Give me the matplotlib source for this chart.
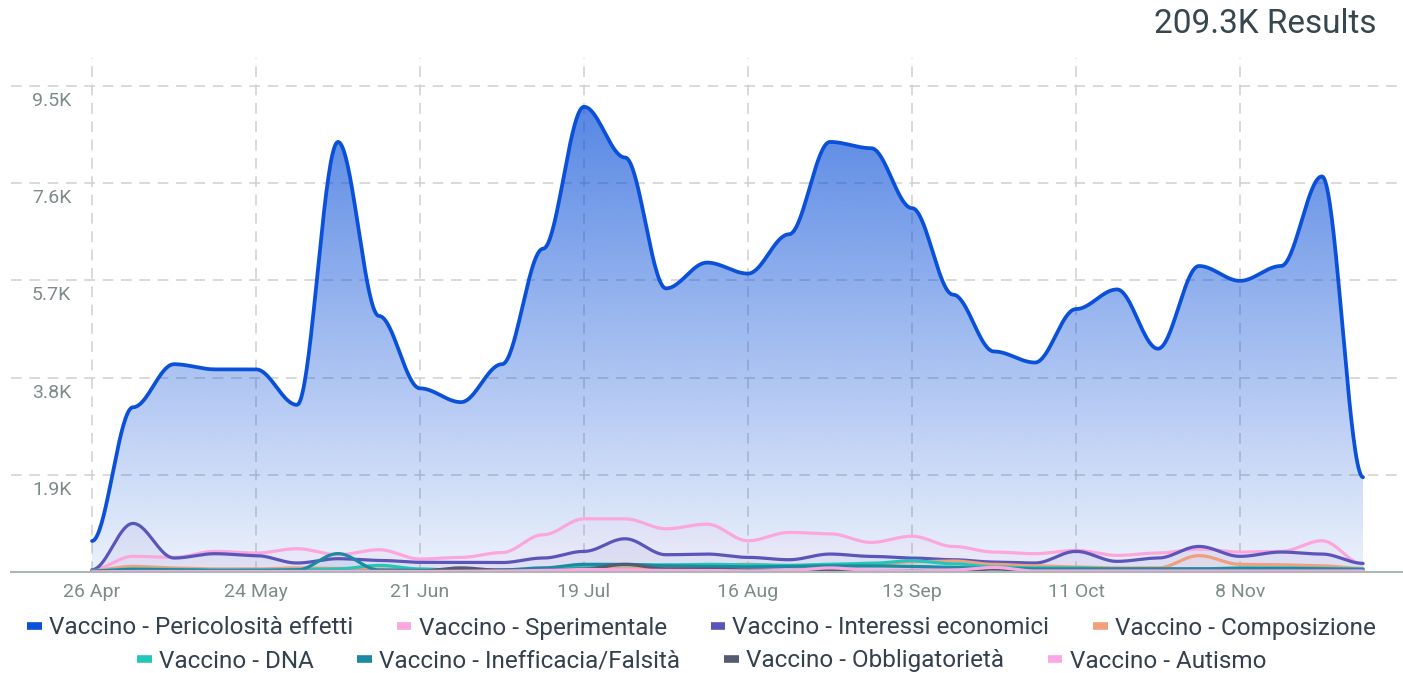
import numpy as np
import matplotlib
matplotlib.use("Agg")
import matplotlib.pyplot as plt
from matplotlib.lines import Line2D
from matplotlib import transforms

plt.rcParams['font.family'] = ['Roboto', 'DejaVu Sans']

# ---------------- data ----------------
weeks = list(range(32))  # weekly points from 26 Apr
tick_weeks = [0, 4, 8, 12, 16, 20, 24, 28]
tick_labels = ['26 Apr', '24 May', '21 Jun', '19 Jul', '16 Aug', '13 Sep', '11 Oct', '8 Nov']
y_ticks = [1900, 3800, 5700, 7600, 9500]
y_tick_labels = ['1.9K', '3.8K', '5.7K', '7.6K', '9.5K']

series_names = [
    'Vaccino - Pericolosità effetti',
    'Vaccino - Sperimentale',
    'Vaccino - Interessi economici',
    'Vaccino - Composizione',
    'Vaccino - DNA',
    'Vaccino - Inefficacia/Falsità',
    'Vaccino - Obbligatorietà',
    'Vaccino - Autismo',
]
series_colors = ['#0a50d8', '#fba6dd', '#5a55b9', '#f0a07c',
                 '#22c7b8', '#1b8aa2', '#525c6e', '#f9a8e3']

pericolosita = [606, 3221, 4063, 3962, 3962, 3268, 8409, 5006, 3591, 3321,
                4063, 6320, 9096, 8105, 5545, 6050, 5835, 6603, 8409, 8287,
                7115, 5424, 4312, 4096, 5141, 5525, 4366, 5983, 5693, 5983,
                7735, 1853]
sperimentale = [45, 306, 286, 403, 371, 455, 338, 436, 254, 286,
                380, 728, 1040, 1040, 845, 936, 611, 774, 748, 579,
                700, 500, 390, 358, 423, 325, 371, 449, 390, 403,
                611, 156]
interessi = [45, 950, 273, 358, 320, 176, 260, 228, 189, 189,
             185, 273, 403, 650, 338, 351, 286, 240, 351, 306,
             273, 240, 195, 176, 403, 208, 273, 500, 306, 390,
             351, 169]
composizione = [30, 110, 80, 60, 60, 80, 70, 60, 40, 40,
                40, 50, 60, 70, 80, 130, 150, 110, 100, 130,
                200, 215, 150, 120, 100, 80, 80, 320, 150, 140,
                120, 70]
dna = [20, 60, 50, 40, 40, 50, 60, 130, 60, 30,
       30, 60, 120, 140, 140, 150, 140, 130, 150, 170,
       220, 160, 100, 80, 80, 60, 60, 60, 80, 80,
       70, 60]
inefficacia = [20, 50, 45, 30, 30, 40, 360, 40, 30, 30,
               40, 80, 150, 150, 120, 110, 100, 110, 120, 120,
               110, 90, 70, 60, 60, 60, 60, 60, 70, 70,
               60, 50]
obbligatorieta = [5, 10, 10, 10, 10, 10, 10, 10, 20, 80,
                  30, 30, 60, 150, 60, 60, 40, 30, 40, 20,
                  20, 10, 60, 20, 20, 20, 20, 20, 20, 20,
                  20, 20]
autismo = [5, 10, 10, 10, 10, 10, 10, 10, 10, 15,
           20, 30, 50, 40, 30, 30, 20, 30, 80, 30,
           20, 40, 90, 20, 20, 20, 20, 20, 20, 20,
           20, 20]

all_series = [pericolosita, sperimentale, interessi, composizione,
              dna, inefficacia, obbligatorieta, autismo]


# ---------------- smooth curve (horizontal tangents at points) ----------------
def smooth(xv, yv, k=0.35, n=40):
    xv = np.asarray(xv, float)
    yv = np.asarray(yv, float)
    t = np.linspace(0, 1, n)[:, None]
    pts = []
    for i in range(len(xv) - 1):
        dx = xv[i + 1] - xv[i]
        p0 = np.array([xv[i], yv[i]])
        p1 = np.array([xv[i] + k * dx, yv[i]])
        p2 = np.array([xv[i + 1] - k * dx, yv[i + 1]])
        p3 = np.array([xv[i + 1], yv[i + 1]])
        seg = ((1 - t) ** 3) * p0 + 3 * ((1 - t) ** 2) * t * p1 + 3 * (1 - t) * t ** 2 * p2 + t ** 3 * p3
        pts.append(seg if i == 0 else seg[1:])
    pts = np.vstack(pts)
    return pts[:, 0], pts[:, 1]


# ---------------- figure ----------------
W, H = 1403, 673
fig = plt.figure(figsize=(W / 100, H / 100), dpi=100)
ax_left, ax_right, ax_bot, ax_top = 11, 1403, 572, 58
ax = fig.add_axes([ax_left / W, (H - ax_bot) / H, (ax_right - ax_left) / W, (ax_bot - ax_top) / H])

XMIN, XMAX = -81 / 41, (1403 - 92) / 41
YMAX = 10050
ax.set_xlim(XMIN, XMAX)
ax.set_ylim(0, YMAX)

# grid
grid_kw = dict(color='#cfcfcf', lw=1.1, linestyle=(0, (7, 5)), zorder=0.5)
for yv in y_ticks:
    ax.axhline(yv, **grid_kw)
for xv in tick_weeks:
    ax.axvline(xv, **grid_kw)

# series
for k, (vals, col) in enumerate(zip(all_series, series_colors)):
    xs, ys = smooth(weeks, vals)
    if k == 0:
        poly = ax.fill_between(xs, ys, 0, facecolor='none', edgecolor='none')
        grad = np.zeros((256, 1, 4))
        grad[:, 0, :3] = matplotlib.colors.to_rgb(col)
        grad[:, 0, 3] = np.linspace(0.08, 0.75, 256)
        im = ax.imshow(grad, extent=[XMIN, XMAX, 0, YMAX], origin='lower',
                       aspect='auto', zorder=1, interpolation='bilinear')
        im.set_clip_path(poly.get_paths()[0], transform=ax.transData)
        ax.plot(xs, ys, color=col, lw=2.7, zorder=3, solid_capstyle='round')
    else:
        ax.fill_between(xs, ys, 0, color=col, alpha=0.07, lw=0, zorder=2)
        ax.plot(xs, ys, color=col, lw=2.3, zorder=3 + k * 0.01, solid_capstyle='round')

ax.set_xlim(XMIN, XMAX)
ax.set_ylim(0, YMAX)

# axes styling
for s in ['top', 'right', 'left']:
    ax.spines[s].set_visible(False)
ax.spines['bottom'].set_color('#aeb6b6')
ax.spines['bottom'].set_linewidth(1.5)
ax.spines['bottom'].set_zorder(5)
ax.set_yticks([])
ax.set_xticks(tick_weeks, tick_labels)
ax.tick_params(axis='x', length=0, pad=8, labelsize=14, labelcolor='#7d8b8b')

# y labels (below gridlines, near left)
trans = transforms.blended_transform_factory(fig.transFigure, ax.transData)
for yv, lab in zip(y_ticks, y_tick_labels):
    t = transforms.offset_copy(trans, fig=fig, x=0, y=-15, units='dots')
    ax.text(32 / W, yv, lab, transform=t, ha='left', va='center',
            fontsize=14, color='#7d8b8b')

# title
fig.text(1376 / W, (H - 24) / H, '209.3K Results', ha='right', va='center',
         fontsize=24, color='#37474f')

# legend rows
def handles(idx):
    return [Line2D([0], [0], color=series_colors[i], lw=5.5, solid_capstyle='butt') for i in idx]

leg_kw = dict(loc='center', frameon=False, ncol=4, fontsize=17.5, handlelength=0.6,
              handletextpad=0.3, columnspacing=1.8, labelcolor='#34404e', borderpad=0)
row1 = [0, 1, 2, 3]
row2 = [4, 5, 6, 7]
fig.legend(handles(row1), [series_names[i] for i in row1],
           bbox_to_anchor=(0.5, (H - 628) / H), **leg_kw)
fig.legend(handles(row2), [series_names[i] for i in row2],
           bbox_to_anchor=(0.5, (H - 661) / H), **leg_kw)

fig.savefig('out.png', dpi=100)
